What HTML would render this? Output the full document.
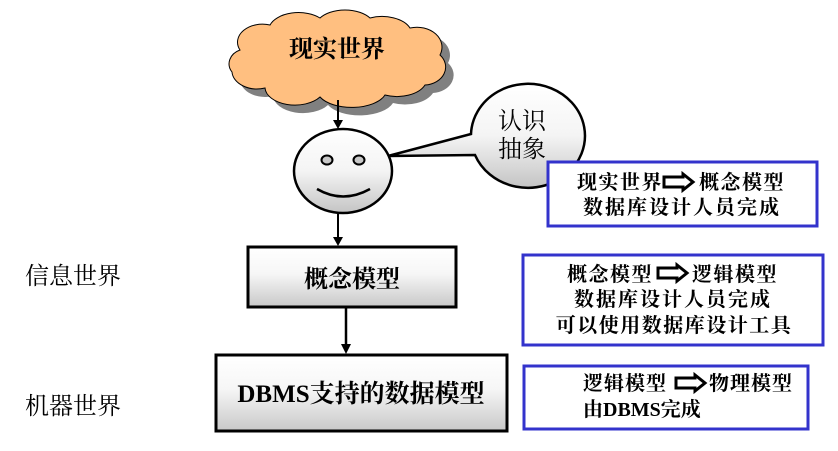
<!DOCTYPE html>
<html><head><meta charset="utf-8"><style>
html,body{margin:0;padding:0;background:#fff;}
svg{display:block;}
text{font-family:"Liberation Serif","Noto Serif CJK SC","Noto Serif CJK",serif;fill:#000;}
</style></head><body>
<svg width="838" height="451" viewBox="0 0 838 451" xmlns="http://www.w3.org/2000/svg">
<defs>
<linearGradient id="g1" x1="0" y1="0" x2="0" y2="1">
<stop offset="0" stop-color="#ffffff"/><stop offset="0.5" stop-color="#f4f4f4"/><stop offset="1" stop-color="#c4c4c4"/>
</linearGradient>
<linearGradient id="g2" x1="0" y1="0" x2="0" y2="1">
<stop offset="0" stop-color="#ffffff"/><stop offset="0.45" stop-color="#f6f6f6"/><stop offset="1" stop-color="#c8c8c8"/>
</linearGradient>
<g id="harrow">
<path d="M0,-5 L19,-5 L19,-8 L29,0 L19,8 L19,5 L0,5 Z" fill="#fff" stroke="#000" stroke-width="3" stroke-linejoin="miter"/>
</g>
</defs>

<!-- cloud shadow -->
<path transform="translate(8,8)" d="M240,50 A25,18 0 0 1 270,25 A30,18 0 0 1 320,18 A30,18 0 0 1 370,18 A30,18 0 0 1 410,28 A25,20 0 0 1 440,55 A22,18 0 0 1 425,85 A30,18 0 0 1 385,95 A35,18 0 0 1 320,97 A30,18 0 0 1 265,88 A25,18 0 0 1 232,72 A18,15 0 0 1 240,50 Z" fill="#808080"/>
<!-- cloud -->
<path d="M240,50 A25,18 0 0 1 270,25 A30,18 0 0 1 320,18 A30,18 0 0 1 370,18 A30,18 0 0 1 410,28 A25,20 0 0 1 440,55 A22,18 0 0 1 425,85 A30,18 0 0 1 385,95 A35,18 0 0 1 320,97 A30,18 0 0 1 265,88 A25,18 0 0 1 232,72 A18,15 0 0 1 240,50 Z" fill="#FFBF80" stroke="#000" stroke-width="1"/>
<text x="337" y="57" font-size="24" font-weight="bold" text-anchor="middle">现实世界</text>

<!-- arrow cloud -> face -->
<line x1="338" y1="100" x2="338" y2="122" stroke="#000" stroke-width="2"/>
<path d="M333,120 L343,120 L338,129 Z" fill="#000"/>

<!-- speech bubble -->
<path d="M388,156 L471,134 A57,52 0 1 1 475,155 Z" fill="url(#g1)" stroke="#000" stroke-width="2.5" stroke-linejoin="miter"/>
<text x="522" y="129" font-size="24" text-anchor="middle">认识</text>
<text x="522" y="157" font-size="24" text-anchor="middle">抽象</text>

<!-- face -->
<ellipse cx="343" cy="171" rx="49" ry="42" fill="url(#g1)" stroke="#000" stroke-width="2.5"/>
<ellipse cx="327" cy="160" rx="5.5" ry="4.5" fill="#c8c8c8" stroke="#000" stroke-width="2"/>
<ellipse cx="359" cy="160" rx="5.5" ry="4.5" fill="#c8c8c8" stroke="#000" stroke-width="2"/>
<path d="M317,189 Q343,204 370,189" fill="none" stroke="#000" stroke-width="2.5"/>

<!-- arrow face -> box1 -->
<line x1="338" y1="213" x2="338" y2="239" stroke="#000" stroke-width="2"/>
<path d="M333,237 L343,237 L338,246 Z" fill="#000"/>

<!-- box 概念模型 -->
<rect x="248" y="247" width="208" height="60" fill="url(#g2)" stroke="#000" stroke-width="3"/>
<text x="352" y="287" font-size="24" font-weight="bold" text-anchor="middle">概念模型</text>

<!-- arrow box1 -> box2 -->
<line x1="346" y1="308" x2="346" y2="346" stroke="#000" stroke-width="2.5"/>
<path d="M341,344 L351,344 L346,354 Z" fill="#000"/>

<!-- box DBMS -->
<rect x="216" y="355" width="291" height="76" fill="url(#g2)" stroke="#000" stroke-width="3"/>
<text x="361" y="402" font-size="25" font-weight="bold" text-anchor="middle">DBMS支持的数据模型</text>

<!-- left labels -->
<text x="25" y="284" font-size="24">信息世界</text>
<text x="25" y="414" font-size="24">机器世界</text>

<!-- blue box 1 -->
<rect x="548" y="162" width="269" height="64" fill="#fff" stroke="#3333CC" stroke-width="3"/>
<text x="577" y="189" font-size="20" font-weight="bold" letter-spacing="1.5">现实世界</text>
<use href="#harrow" x="664" y="182"/>
<text x="699" y="189" font-size="20" font-weight="bold" letter-spacing="1.5">概念模型</text>
<text x="682" y="214" font-size="20" font-weight="bold" letter-spacing="2" text-anchor="middle">数据库设计人员完成</text>

<!-- blue box 2 -->
<rect x="523" y="255" width="300" height="90" fill="#fff" stroke="#3333CC" stroke-width="3"/>
<text x="567" y="281" font-size="20" font-weight="bold" letter-spacing="1.5">概念模型</text>
<use href="#harrow" x="658" y="273"/>
<text x="692" y="281" font-size="20" font-weight="bold" letter-spacing="1.5">逻辑模型</text>
<text x="673" y="306" font-size="20" font-weight="bold" letter-spacing="2" text-anchor="middle">数据库设计人员完成</text>
<text x="674" y="332" font-size="20" font-weight="bold" letter-spacing="1.5" text-anchor="middle">可以使用数据库设计工具</text>

<!-- blue box 3 -->
<rect x="524" y="366" width="284" height="63" fill="#fff" stroke="#3333CC" stroke-width="3"/>
<text x="583" y="390" font-size="20" font-weight="bold" letter-spacing="1">逻辑模型</text>
<use href="#harrow" x="676" y="383"/>
<text x="709" y="390" font-size="20" font-weight="bold" letter-spacing="1">物理模型</text>
<text x="583" y="416" font-size="20" font-weight="bold">由DBMS完成</text>
</svg>
</body></html>
